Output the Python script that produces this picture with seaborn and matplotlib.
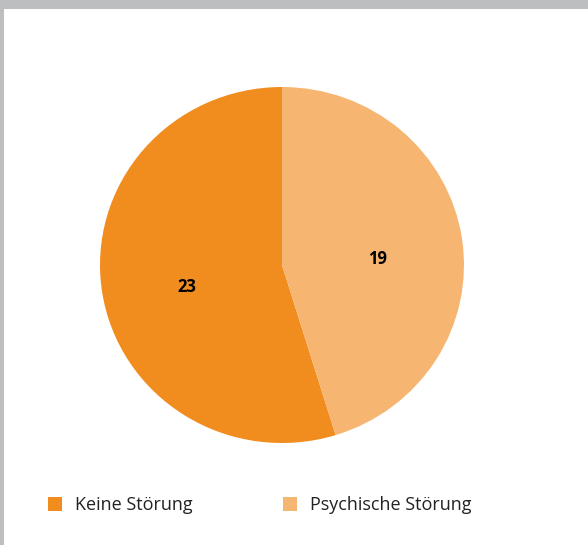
import matplotlib
matplotlib.use("Agg")
import matplotlib.pyplot as plt
import matplotlib.transforms as mtransforms
import seaborn as sns
from matplotlib.patches import Rectangle

# data
categories = ["Keine Störung", "Psychische Störung"]
counts = [23, 19]
colors = ["#f18d1f", "#f7b572"]

sns.set_theme(style="white")
plt.rcParams['font.family'] = ['Open Sans', 'DejaVu Sans']

W, H = 588, 545
fig = plt.figure(figsize=(W / 100, H / 100), dpi=100)
fig.patch.set_facecolor("#bdbec0")
# white card with grey frame on top/left
fig.add_artist(Rectangle((4 / W, 0), 1, 1 - 9 / H, transform=fig.transFigure,
                         facecolor="white", edgecolor="none", zorder=0))

# pie is slightly wider than tall in the reference
cx, cy, rx, ry = 282, 265, 182, 178
ax = fig.add_axes([(cx - rx) / W, (H - cy - ry) / H, 2 * rx / W, 2 * ry / H])
palette = sns.color_palette(colors)
wedges, texts = ax.pie(counts, colors=palette, startangle=90, counterclock=True,
                       labels=[str(c) for c in counts], labeldistance=0.53,
                       wedgeprops=dict(linewidth=0))
shift = mtransforms.ScaledTranslation(0, -8 / 100, fig.dpi_scale_trans)
for t in texts:
    t.set_fontsize(12)
    t.set_fontweight("bold")
    t.set_color("black")
    t.set_ha("center")
    t.set_va("center")
    t.set_transform(t.get_transform() + shift)
ax.set_xlim(-1, 1)
ax.set_ylim(-1, 1)
ax.set_aspect("auto")
ax.axis("off")

leg = fig.legend(wedges, categories, loc="center left",
                 bbox_to_anchor=(48 / W, 1 - 505 / H), ncol=2, frameon=False,
                 fontsize=13, handlelength=0.78, handleheight=0.85,
                 handletextpad=0.72, columnspacing=5.0, borderpad=0,
                 borderaxespad=0)
for t in leg.get_texts():
    t.set_color("#222222")

fig.savefig("out.png", dpi=100)
